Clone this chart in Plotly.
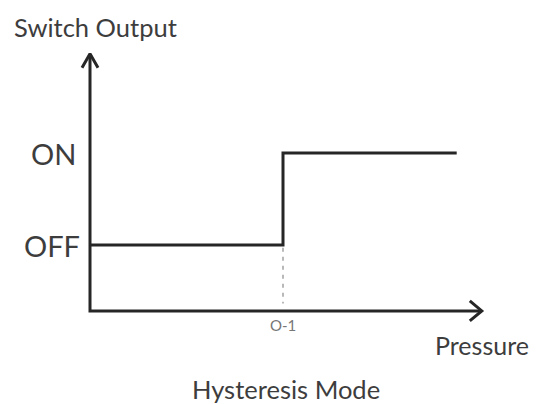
import plotly.graph_objects as go

# ---- data ----
pressure = [0.0, 1.0, 1.0, 1.9]            # pressure (setpoint O-1 = 1)
state = ["OFF", "OFF", "ON", "ON"]         # switch output
levels = ["OFF", "ON"]                     # y tick labels
level_vals = [0, 1]
x_tick_vals = [1.0]
x_tick_text = ["O-1"]
x_title = "Pressure"
y_title = "Switch Output"
chart_title = "Hysteresis Mode"

lv = dict(zip(levels, level_vals))
y_vals = [lv[s] for s in state]

# axis geometry (data units)
X_MIN, X_MAX = -0.4663, 2.3109
Y_MIN, Y_MAX = -1.7283, 2.663
AX_Y0 = -0.717      # where the pressure axis sits
AX_X_END = 2.03     # arrow tip of pressure axis
AX_Y_END = 2.08     # arrow tip of output axis

LINE = "#262626"
TXT = "#3d3d3d"
FONT = "Lato, Open Sans, sans-serif"

fig = go.Figure()

# the step curve
fig.add_trace(go.Scatter(x=pressure, y=y_vals, mode="lines",
                         line=dict(color=LINE, width=3), hoverinfo="skip"))

# dashed setpoint drop line
for xv in x_tick_vals:
    fig.add_trace(go.Scatter(x=[xv, xv], y=[lv["OFF"] - 0.03, AX_Y0 + 0.08], mode="lines",
                             line=dict(color="#8a8a8a", width=1.2, dash="4px,5px"),
                             hoverinfo="skip"))

# axes lines
fig.add_trace(go.Scatter(x=[0, 0, AX_X_END - 0.01], y=[AX_Y_END - 0.02, AX_Y0, AX_Y0], mode="lines",
                         line=dict(color=LINE, width=3), hoverinfo="skip"))
# arrowheads (chevrons)
dx_arm, dy_arm = 12 / 193, 10 / 92
fig.add_trace(go.Scatter(x=[AX_X_END - dx_arm, AX_X_END, AX_X_END - dx_arm],
                         y=[AX_Y0 + dy_arm, AX_Y0, AX_Y0 - dy_arm], mode="lines",
                         line=dict(color=LINE, width=3), hoverinfo="skip"))
dx_arm2, dy_arm2 = 8 / 193, 14 / 92
fig.add_trace(go.Scatter(x=[-dx_arm2, 0, dx_arm2],
                         y=[AX_Y_END - dy_arm2, AX_Y_END, AX_Y_END - dy_arm2], mode="lines",
                         line=dict(color=LINE, width=3), hoverinfo="skip"))

annotations = []
label_gap = {"OFF": 0.04, "ON": 0.06}
for name, v in zip(levels, level_vals):
    annotations.append(dict(x=-label_gap[name], y=v, text=name, showarrow=False, xanchor="right",
                            yanchor="middle", font=dict(family=FONT, size=29, color=TXT)))
for xv, t in zip(x_tick_vals, x_tick_text):
    annotations.append(dict(x=xv, y=AX_Y0 - 0.15, text=t, showarrow=False, xanchor="center",
                            yanchor="middle", font=dict(family=FONT, size=15, color="#777777")))
annotations.append(dict(x=0.03, y=2.37, text=y_title, showarrow=False, xanchor="center",
                        yanchor="middle", font=dict(family=FONT, size=25.5, color=TXT)))
annotations.append(dict(x=(482 - 90) / 193, y=-1.09, text=x_title, showarrow=False, xanchor="center",
                        yanchor="middle", font=dict(family=FONT, size=25, color=TXT)))
annotations.append(dict(x=1.016, y=-1.56, text=chart_title, showarrow=False, xanchor="center",
                        yanchor="middle", font=dict(family=FONT, size=25.5, color=TXT)))

fig.update_layout(
    width=536, height=404, margin=dict(l=0, r=0, t=0, b=0),
    paper_bgcolor="white", plot_bgcolor="white", showlegend=False,
    xaxis=dict(range=[X_MIN, X_MAX], visible=False, fixedrange=True),
    yaxis=dict(range=[Y_MIN, Y_MAX], visible=False, fixedrange=True),
    annotations=annotations,
)

fig.write_html("out.html", config={"displayModeBar": False},
               post_script="document.body.style.margin='0px';document.body.style.overflow='hidden';")
